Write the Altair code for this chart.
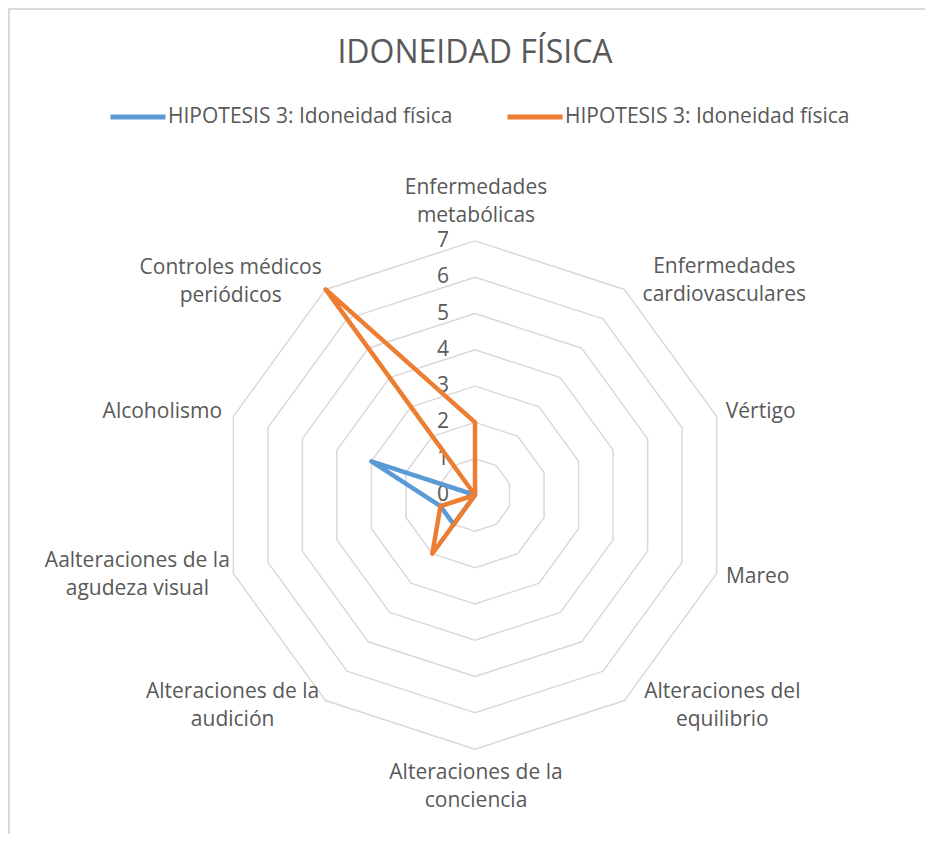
import math
import altair as alt
import pandas as pd

# ---------------- data ----------------
categorias = [
    "Enfermedades metabólicas",
    "Enfermedades cardiovasculares",
    "Vértigo",
    "Mareo",
    "Alteraciones del equilibrio",
    "Alteraciones de la conciencia",
    "Alteraciones de la audición",
    "Aalteraciones de la agudeza visual",
    "Alcoholismo",
    "Controles médicos periódicos",
]
# label line breaks as shown in the chart
etiquetas = [
    ["Enfermedades", "metabólicas"],
    ["Enfermedades", "cardiovasculares"],
    ["Vértigo"],
    ["Mareo"],
    ["Alteraciones del", "equilibrio"],
    ["Alteraciones de la", "conciencia"],
    ["Alteraciones de la", "audición"],
    ["Aalteraciones de la", "agudeza visual"],
    ["Alcoholismo"],
    ["Controles médicos", "periódicos"],
]
serie_1 = [0, 0, 0, 0, 0, 0, 1, 1, 3, 0]
serie_2 = [2, 0, 0, 0, 0, 0, 2, 1, 0, 7]
series_ids = ["s1", "s2"]
series_nombre = "HIPOTESIS 3: Idoneidad física"
ticks = [0, 1, 2, 3, 4, 5, 6, 7]
titulo = "IDONEIDAD FÍSICA"

# ---------------- layout ----------------
W, H = 917, 826
UNIT = 36.3             # px per value unit
CX, CY = 467, 487       # center inside plot area
x0 = -CX / UNIT
x1 = x0 + W / UNIT
y1 = CY / UNIT
y0 = y1 - H / UNIT
RMAX = max(ticks)
TITLE_Y = 55            # title baseline inside plot area (px)
LH = 28                 # label line height
# label block-centre offsets (px) from the outer-ring vertex
label_off = [(1, -39), (100, -8), (44, -4), (41, 3), (98, 5),
             (1, 38), (-93, 5), (-96, 1), (-71, -4), (-95, -7)]

N = len(categorias)
ang = [2 * math.pi * k / N for k in range(N)]

FONT = "Open Sans"
TXT = "#595959"
GRID = "#d9d9d9"
BLUE = "#5B9BD5"
ORANGE = "#ED7D31"

# ---------------- tables ----------------
rings = []
for r in ticks[1:]:
    for i in range(N + 1):
        k = i % N
        rings.append({"ring": r, "ord": i,
                      "x": r * math.sin(ang[k]), "y": r * math.cos(ang[k])})
rings = pd.DataFrame(rings)


def series_df(vals, sid):
    rows = []
    for i in range(N + 1):
        k = i % N
        rows.append({"serie": sid, "cat": categorias[k], "v": vals[k], "ord": i,
                     "x": vals[k] * math.sin(ang[k]), "y": vals[k] * math.cos(ang[k])})
    return pd.DataFrame(rows)


d1 = series_df(serie_1, series_ids[0])
d2 = series_df(serie_2, series_ids[1])

labs = pd.DataFrame([{
    "txt": etiquetas[k],
    "x": RMAX * math.sin(ang[k]) + label_off[k][0] / UNIT,
    "y": RMAX * math.cos(ang[k])
         - (label_off[k][1] - (len(etiquetas[k]) - 1) * LH / 2) / UNIT,
} for k in range(N)])

tk = pd.DataFrame({"t": ticks, "x": [0] * len(ticks), "y": ticks})

xs = alt.Scale(domain=[x0, x1], nice=False, zero=False)
ys = alt.Scale(domain=[y0, y1], nice=False, zero=False)
X = lambda: alt.X("x:Q", scale=xs, axis=None)
Y = lambda: alt.Y("y:Q", scale=ys, axis=None)

color = alt.Color(
    "serie:N",
    scale=alt.Scale(domain=series_ids, range=[BLUE, ORANGE]),
    legend=alt.Legend(
        orient="none", legendX=100, legendY=79, direction="horizontal",
        title=None, symbolType="stroke", symbolSize=3025, symbolStrokeWidth=5,
        labelFontSize=21, labelFont=FONT, labelColor=TXT, labelOffset=0,
        columnPadding=44, labelLimit=0, padding=0,
        labelExpr="'" + series_nombre + "'",
    ),
)

# chart frame: top and left edges (right/bottom lie beyond the picture)
frame_top = alt.Chart(pd.DataFrame({"a": [0]})).mark_rule(color=GRID, strokeWidth=2).encode(
    x=alt.value(0), x2=alt.value(W), y=alt.value(1))
frame_left = alt.Chart(pd.DataFrame({"a": [0]})).mark_rule(color=GRID, strokeWidth=2).encode(
    x=alt.value(1), y=alt.value(0), y2=alt.value(H))

title_layer = alt.Chart(pd.DataFrame({"t": [titulo]})).mark_text(
    align="center", baseline="alphabetic", fontSize=32, font=FONT, color=TXT
).encode(x=alt.value(CX), y=alt.value(TITLE_Y), text="t:N")

ring_layer = alt.Chart(rings).mark_line(color=GRID, strokeWidth=1.5).encode(
    x=X(), y=Y(), detail="ring:N", order="ord:Q")

line_kw = dict(strokeWidth=4.5, strokeJoin="round", strokeCap="round")
l1 = alt.Chart(d1).mark_line(**line_kw).encode(x=X(), y=Y(), color=color, order="ord:Q")
l2 = alt.Chart(d2).mark_line(**line_kw).encode(x=X(), y=Y(), color=color, order="ord:Q")

tick_layer = alt.Chart(tk).mark_text(
    align="right", baseline="middle", dx=-26, fontSize=21, font=FONT, color=TXT
).encode(x=X(), y=Y(), text="t:Q")

lab_layer = alt.Chart(labs).mark_text(
    align="center", baseline="middle", fontSize=21, font=FONT, color=TXT, lineHeight=LH
).encode(x=X(), y=Y(), text="txt")

chart = alt.layer(frame_top, frame_left, title_layer, ring_layer, tick_layer,
                  l1, l2, lab_layer).properties(
    width=W, height=H,
    padding=0,
    autosize=alt.AutoSizeParams(type="none"),
).configure_view(stroke=None)

chart.save("out.html", embed_options={"renderer": "svg", "actions": False})
